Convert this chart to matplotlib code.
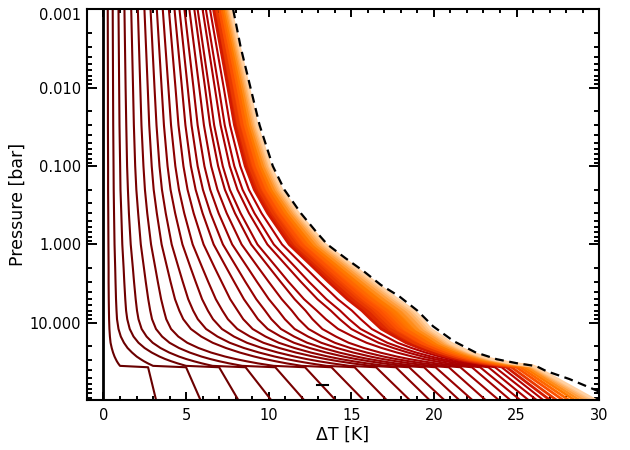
import matplotlib
matplotlib.use("Agg")
import matplotlib.pyplot as plt
import matplotlib.transforms as mtransforms
import numpy as np
from matplotlib.ticker import LogLocator, MultipleLocator, NullFormatter

p_levels = [0.001, 0.01, 0.03, 0.1, 0.2, 0.4, 1.0, 2.0, 3.0, 5.0, 7.0, 9.0, 12.0, 15.0, 18.0,
            21.0, 24.0, 27.0, 29.0, 31.0, 33.0, 35.5, 37.0, 100.0]

# Delta T [K] of the 30 profiles (early -> late) at each pressure level
dt_p0001 = [0.26, 0.56, 0.91, 1.27, 1.68, 2.08, 2.48, 2.85, 3.23, 3.59, 3.96, 4.30, 4.60, 4.90, 5.20,
            5.50, 5.70, 6.00, 6.20, 6.45, 6.66, 6.85, 7.02, 7.17, 7.30, 7.41, 7.51, 7.59, 7.66, 7.72]
dt_p001 = [0.27, 0.58, 0.95, 1.34, 1.79, 2.23, 2.68, 3.09, 3.52, 3.93, 4.36, 4.75, 5.10, 5.45, 5.80,
           6.15, 6.39, 6.74, 6.98, 7.28, 7.53, 7.75, 7.96, 8.14, 8.29, 8.43, 8.55, 8.64, 8.73, 8.80]
dt_p003 = [0.27, 0.59, 0.97, 1.38, 1.84, 2.30, 2.77, 3.21, 3.66, 4.09, 4.54, 4.96, 5.33, 5.70, 6.08,
           6.45, 6.70, 7.09, 7.34, 7.66, 7.93, 8.17, 8.39, 8.59, 8.76, 8.90, 9.03, 9.13, 9.22, 9.30]
dt_p01 = [0.28, 0.61, 1.01, 1.43, 1.92, 2.42, 2.92, 3.39, 3.88, 4.35, 4.84, 5.29, 5.70, 6.11, 6.52,
          6.94, 7.22, 7.64, 7.92, 8.28, 8.58, 8.85, 9.10, 9.31, 9.50, 9.66, 9.81, 9.92, 10.03, 10.11]
dt_p02 = [0.28, 0.62, 1.03, 1.48, 1.99, 2.51, 3.04, 3.54, 4.06, 4.57, 5.09, 5.58, 6.02, 6.46, 6.90,
          7.35, 7.65, 8.11, 8.42, 8.80, 9.13, 9.43, 9.69, 9.93, 10.13, 10.31, 10.47, 10.59, 10.70, 10.80]
dt_p04 = [0.29, 0.64, 1.08, 1.54, 2.10, 2.65, 3.23, 3.77, 4.34, 4.89, 5.46, 6.00, 6.48, 6.97, 7.46,
          7.96, 8.30, 8.81, 9.14, 9.57, 9.94, 10.27, 10.57, 10.83, 11.06, 11.26, 11.44, 11.58, 11.70, 11.81]
dt_p1 = [0.30, 0.67, 1.14, 1.65, 2.26, 2.88, 3.52, 4.13, 4.78, 5.40, 6.06, 6.67, 7.23, 7.79, 8.36,
         8.94, 9.32, 9.92, 10.31, 10.81, 11.24, 11.63, 11.98, 12.29, 12.55, 12.78, 12.99, 13.16, 13.31, 13.43]
dt_p2 = [0.31, 0.71, 1.22, 1.78, 2.45, 3.14, 3.86, 4.55, 5.28, 5.99, 6.74, 7.45, 8.09, 8.74, 9.39,
         10.06, 10.51, 11.20, 11.66, 12.24, 12.74, 13.19, 13.60, 13.96, 14.27, 14.54, 14.78, 14.98, 15.15, 15.30]
dt_p3 = [0.31, 0.73, 1.26, 1.85, 2.56, 3.29, 4.06, 4.80, 5.58, 6.34, 7.15, 7.91, 8.59, 9.29, 10.00,
         10.72, 11.20, 11.95, 12.44, 13.08, 13.61, 14.10, 14.55, 14.94, 15.28, 15.57, 15.83, 16.05, 16.24, 16.40]
dt_p5 = [0.32, 0.76, 1.32, 1.95, 2.71, 3.49, 4.33, 5.13, 5.97, 6.80, 7.67, 8.50, 9.25, 10.01, 10.79,
         11.57, 12.14, 12.95, 13.49, 14.18, 14.76, 15.30, 15.78, 16.21, 16.58, 16.90, 17.19, 17.43, 17.63, 17.80]
dt_p7 = [0.33, 0.79, 1.37, 2.03, 2.83, 3.66, 4.59, 5.43, 6.32, 7.20, 8.12, 8.99, 9.78, 10.58, 11.40,
         12.23, 12.91, 13.76, 14.32, 15.04, 15.64, 16.20, 16.70, 17.15, 17.53, 17.87, 18.16, 18.41, 18.62, 18.80]
dt_p9 = [0.34, 0.82, 1.44, 2.12, 2.94, 3.80, 4.83, 5.71, 6.63, 7.53, 8.46, 9.35, 10.16, 10.98, 11.81,
         12.65, 13.46, 14.30, 14.86, 15.57, 16.17, 16.72, 17.22, 17.66, 18.05, 18.38, 18.68, 18.92, 19.12, 19.30]
dt_p12 = [0.36, 0.91, 1.59, 2.31, 3.18, 4.09, 5.29, 6.21, 7.17, 8.10, 9.03, 9.94, 10.74, 11.57, 12.41,
          13.25, 14.20, 15.00, 15.56, 16.24, 16.81, 17.33, 17.81, 18.24, 18.61, 18.93, 19.21, 19.45, 19.63, 19.80]
dt_p15 = [0.39, 1.05, 1.82, 2.61, 3.55, 4.53, 5.92, 6.90, 7.90, 8.87, 9.81, 10.73, 11.54, 12.38, 13.22,
          14.07, 15.10, 15.88, 16.43, 17.09, 17.63, 18.13, 18.59, 19.00, 19.36, 19.68, 19.94, 20.17, 20.33, 20.50]
dt_p18 = [0.43, 1.24, 2.12, 2.98, 4.00, 5.07, 6.61, 7.64, 8.68, 9.68, 10.61, 11.53, 12.33, 13.18, 14.00,
          14.84, 15.92, 16.65, 17.18, 17.80, 18.31, 18.78, 19.21, 19.60, 19.94, 20.24, 20.50, 20.70, 20.85, 21.00]
dt_p21 = [0.50, 1.46, 2.49, 3.45, 4.57, 5.75, 7.41, 8.50, 9.59, 10.64, 11.56, 12.48, 13.28, 14.13, 14.94,
          15.77, 16.84, 17.54, 18.06, 18.65, 19.11, 19.55, 19.97, 20.33, 20.66, 20.95, 21.19, 21.38, 21.51, 21.65]
dt_p24 = [0.58, 1.73, 2.92, 3.98, 5.22, 6.51, 8.25, 9.42, 10.56, 11.64, 12.55, 13.48, 14.27, 15.12, 15.93,
          16.74, 17.76, 18.43, 18.93, 19.49, 19.92, 20.34, 20.73, 21.07, 21.39, 21.66, 21.89, 22.07, 22.17, 22.30]
dt_p27 = [0.67, 2.01, 3.39, 4.57, 5.93, 7.36, 9.13, 10.37, 11.57, 12.69, 13.59, 14.52, 15.31, 16.16, 16.95,
          17.76, 18.70, 19.33, 19.83, 20.36, 20.76, 21.15, 21.52, 21.84, 22.15, 22.41, 22.62, 22.79, 22.88, 23.00]
dt_p29 = [0.74, 2.23, 3.73, 5.00, 6.45, 7.98, 9.75, 11.04, 12.27, 13.43, 14.32, 15.26, 16.04, 16.89, 17.68,
          18.47, 19.35, 19.97, 20.46, 20.97, 21.35, 21.72, 22.08, 22.39, 22.69, 22.94, 23.15, 23.31, 23.39, 23.50]
dt_p31 = [0.81, 2.45, 4.10, 5.47, 7.01, 8.65, 10.41, 11.76, 13.03, 14.23, 15.12, 16.07, 16.85, 17.71, 18.50,
          19.29, 20.09, 20.70, 21.19, 21.69, 22.05, 22.41, 22.77, 23.07, 23.37, 23.62, 23.82, 23.98, 24.04, 24.15]
dt_p33 = [0.89, 2.69, 4.49, 5.96, 7.61, 9.35, 11.09, 12.51, 13.83, 15.06, 15.95, 16.91, 17.69, 18.56, 19.35,
          20.13, 20.84, 21.43, 21.92, 22.41, 22.76, 23.11, 23.45, 23.75, 24.05, 24.29, 24.49, 24.64, 24.69, 24.80]
dt_p355 = [1.0, 3.0, 5.0, 6.6, 8.4, 10.3, 12.0, 13.5, 14.9, 16.2, 17.1, 18.1, 18.9, 19.8, 20.6,
           21.4, 22.0, 22.6, 23.1, 23.6, 23.95, 24.3, 24.65, 24.95, 25.25, 25.5, 25.7, 25.85, 25.9, 26.0]
dt_p37 = [2.7, 5.0, 7.0, 8.6, 10.4, 12.2, 13.8, 15.2, 16.5, 17.7, 18.5, 19.4, 20.1, 20.9, 21.6,
          22.3, 22.8, 23.3, 23.7, 24.1, 24.4, 24.7, 25.0, 25.25, 25.5, 25.7, 25.9, 26.0, 26.1, 26.2]
dt_p100 = [3.2, 5.9, 8.2, 10.2, 12.2, 14.1, 15.8, 17.2, 18.6, 19.8, 20.7, 21.6, 22.4, 23.2, 24.0,
           24.7, 25.3, 25.8, 26.3, 26.7, 27.1, 27.5, 27.9, 28.25, 28.6, 28.9, 29.2, 29.45, 29.7, 29.9]

# dashed envelope
env_p = [0.001, 0.003, 0.01, 0.03, 0.1, 0.2, 0.4, 0.7, 1.0, 1.5, 2.2, 3.3, 4.6, 7.0,
         11.1, 17.2, 23.8, 29.2, 32.8, 35.8, 41.4, 52.3, 74.0, 100.0]
env_dt = [7.85, 8.3, 8.9, 9.45, 10.25, 10.95, 11.95, 12.9, 13.55, 14.65, 15.75, 16.8, 17.9, 19.0,
          19.95, 21.2, 22.5, 23.8, 25.0, 26.2, 26.8, 28.2, 29.9, 30.3]

# small black mark near the bottom
mark_dt = [12.9, 13.6]
mark_p = [62.0, 62.0]

profiles = np.array([dt_p0001, dt_p001, dt_p003, dt_p01, dt_p02, dt_p04, dt_p1, dt_p2, dt_p3, dt_p5,
                     dt_p7, dt_p9, dt_p12, dt_p15, dt_p18, dt_p21, dt_p24, dt_p27, dt_p29, dt_p31,
                     dt_p33, dt_p355, dt_p37, dt_p100])
n_curves = profiles.shape[1]
n_early = 20

cmap = plt.cm.gist_heat
ramp = np.linspace(0, 1, n_curves - n_early) ** 0.8
shade = np.concatenate([np.linspace(0.27, 0.47, n_early), 0.55 + 0.36 * ramp])
colors = cmap(shade)

plt.rcParams['font.family'] = 'DejaVu Sans'
fig = plt.figure(figsize=(6.3, 4.5), dpi=100)
ax = fig.add_axes([0.138, 0.111, 0.813, 0.868])

ax.plot([0, 0], [0.001, 100], color='black', lw=2)

# the late profiles are packed so tightly that they merge into a solid band
upper = slice(0, len(p_levels) - 1)
for k in range(n_early, n_curves - 1):
    ax.fill_betweenx(p_levels[upper], profiles[upper, k], profiles[upper, k + 1],
                     color=cmap(0.5 * (shade[k] + shade[k + 1])), lw=0, zorder=1.5)

for k in range(n_curves):
    lw = 1.5 if k < n_early else 2.0
    ax.plot(profiles[:, k], p_levels, color=colors[k], lw=lw,
            solid_joinstyle='round', solid_capstyle='butt')
ax.plot(env_dt, env_p, color='black', lw=1.6, dashes=(4, 2.5))
ax.plot(mark_dt, mark_p, color='black', lw=1.5)

ax.set_yscale('log')
ax.set_ylim(97, 0.001)
ax.set_xlim(-1, 30)

ax.set_xticks([0, 5, 10, 15, 20, 25, 30])
ax.xaxis.set_minor_locator(MultipleLocator(1))
ax.set_yticks([0.001, 0.01, 0.1, 1, 10])
ax.set_yticklabels(['0.001', '0.010', '0.100', '1.000', '10.000'])
ax.yaxis.set_minor_locator(LogLocator(base=10, subs=np.arange(2, 10)))
ax.yaxis.set_minor_formatter(NullFormatter())

ax.tick_params(which='both', direction='in', top=True, right=True, width=1.4, labelsize=10.5)
ax.tick_params(axis='x', which='major', length=5.5, pad=6)
ax.tick_params(axis='x', which='minor', length=2.8)
ax.tick_params(axis='y', which='major', length=7, pad=4)
ax.tick_params(axis='y', which='minor', length=3.8)
for s in ax.spines.values():
    s.set_linewidth(1.5)

# the top label sits a little below its tick
top_label = ax.get_yticklabels()[0]
top_label.set_transform(top_label.get_transform() +
                        mtransforms.ScaledTranslation(0, -5 / 100, fig.dpi_scale_trans))

ax.set_xlabel('\u0394T [K]', fontsize=12.5, labelpad=2)
ax.set_ylabel('Pressure [bar]', fontsize=12.5, labelpad=2)

fig.savefig('out.png', dpi=100)
